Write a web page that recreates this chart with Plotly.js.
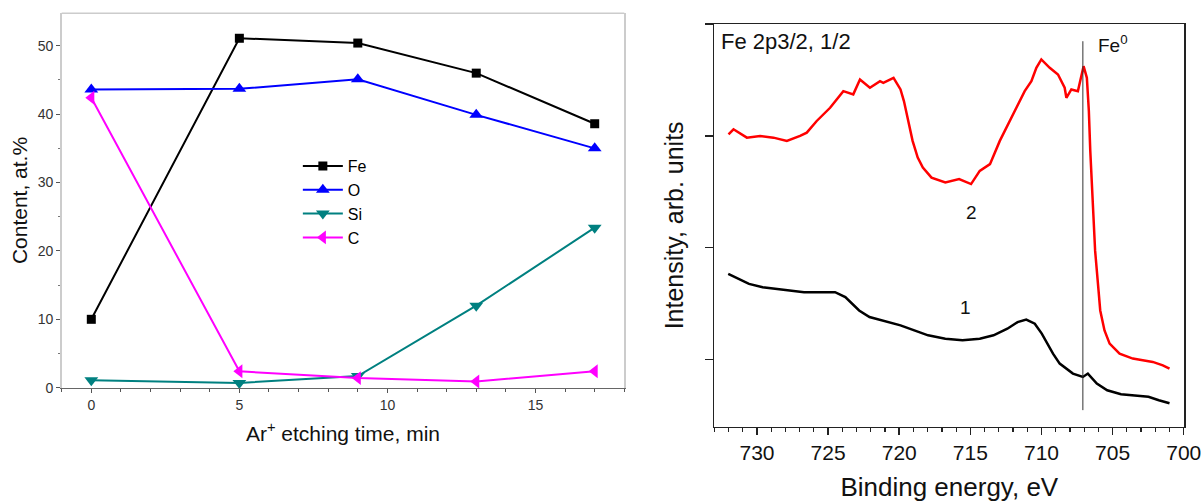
<!DOCTYPE html>
<html>
<head>
<meta charset="utf-8">
<script src="https://cdn.plot.ly/plotly-3.0.1.min.js"></script>
<style>html,body{margin:0;padding:0;background:#fff;}#chart{width:1201px;height:502px;}</style>
</head>
<body>
<div id="chart"></div>
<script>
// ---- Left panel: elemental content vs Ar+ etching time ----
const etchTime = [0, 5, 9, 13, 17];
const feContent = [10.0, 51.1, 50.4, 46.0, 38.6];
const oContent = [43.6, 43.7, 45.1, 39.9, 35.0];
const siContent = [1.1, 0.7, 1.7, 12.0, 23.4];
const cContent = [42.4, 2.4, 1.4, 0.9, 2.4];
const xTicksLeft = [0, 5, 10, 15];
const yTicksLeft = [0, 10, 20, 30, 40, 50];

// ---- Right panel: Fe 2p XPS spectra ----
const spec2Energy = [732.0, 731.65, 730.71, 729.78, 728.84, 727.90, 726.97, 726.50, 725.80, 724.86, 723.93, 723.23, 722.76, 722.06, 721.35, 721.12, 720.40, 719.91, 719.67, 719.43, 719.06, 718.70, 718.34, 717.73, 716.76, 715.79, 714.95, 714.34, 713.62, 712.93, 712.0, 711.18, 710.71, 710.36, 710.01, 709.42, 708.84, 708.37, 708.25, 707.90, 707.44, 707.04, 706.81, 706.67, 706.57, 706.23, 705.99, 705.87, 705.57, 705.21, 704.51, 703.58, 702.88, 702.18, 701.47, 701.0];
const spec2Intensity = [3.014, 3.059, 2.984, 2.999, 2.984, 2.954, 2.999, 3.029, 3.133, 3.251, 3.400, 3.371, 3.504, 3.430, 3.489, 3.474, 3.519, 3.415, 3.311, 3.162, 2.955, 2.806, 2.717, 2.627, 2.583, 2.613, 2.569, 2.687, 2.747, 2.955, 3.193, 3.400, 3.489, 3.608, 3.683, 3.608, 3.549, 3.430, 3.340, 3.415, 3.400, 3.623, 3.519, 3.222, 2.866, 1.974, 1.618, 1.439, 1.261, 1.143, 1.053, 1.009, 0.994, 0.979, 0.949, 0.920];
const spec1Energy = [732.02, 731.29, 730.56, 729.60, 728.63, 727.66, 726.69, 725.72, 724.51, 723.79, 723.30, 722.82, 722.09, 721.12, 719.91, 718.94, 717.97, 716.76, 715.55, 714.34, 713.37, 712.40, 711.68, 711.07, 710.47, 709.98, 709.50, 709.19, 708.72, 708.41, 707.79, 707.09, 706.74, 706.11, 705.38, 704.41, 703.45, 702.48, 701.75, 701.0];
const spec1Intensity = [1.766, 1.722, 1.677, 1.647, 1.633, 1.618, 1.603, 1.603, 1.603, 1.558, 1.499, 1.439, 1.380, 1.350, 1.306, 1.261, 1.217, 1.187, 1.172, 1.187, 1.217, 1.276, 1.335, 1.357, 1.321, 1.232, 1.127, 1.053, 0.964, 0.934, 0.875, 0.845, 0.875, 0.786, 0.726, 0.691, 0.676, 0.667, 0.637, 0.610];
const fe0Energy = 707.09;
const xTicksRight = [730, 725, 720, 715, 710, 705, 700];
const yTicksRight = [1, 2, 3, 4];

const FONT = 'Liberation Sans, Arial, Helvetica, sans-serif';

const traces = [
  {x: etchTime, y: feContent, name: 'Fe', mode: 'lines+markers', xaxis: 'x', yaxis: 'y', cliponaxis: false,
   line: {color: '#000000', width: 2}, marker: {symbol: 'square', size: 9, color: '#000000'}},
  {x: etchTime, y: oContent, name: 'O', mode: 'lines+markers', xaxis: 'x', yaxis: 'y', cliponaxis: false,
   line: {color: '#0000ff', width: 2}, marker: {symbol: 'triangle-up', size: 12, color: '#0000ff'}},
  {x: etchTime, y: siContent, name: 'Si', mode: 'lines+markers', xaxis: 'x', yaxis: 'y', cliponaxis: false,
   line: {color: '#008080', width: 2}, marker: {symbol: 'triangle-down', size: 12, color: '#008080'}},
  {x: etchTime, y: cContent, name: 'C', mode: 'lines+markers', xaxis: 'x', yaxis: 'y', cliponaxis: false,
   line: {color: '#ff00ff', width: 2}, marker: {symbol: 'triangle-left', size: 12, color: '#ff00ff'}},
  {x: spec2Energy, y: spec2Intensity, name: '2', mode: 'lines', xaxis: 'x2', yaxis: 'y2', showlegend: false,
   line: {color: '#ff0000', width: 2.5}},
  {x: spec1Energy, y: spec1Intensity, name: '1', mode: 'lines', xaxis: 'x2', yaxis: 'y2', showlegend: false,
   line: {color: '#000000', width: 2.5}}
];

const layout = {
  width: 1201, height: 502,
  margin: {l: 0, r: 0, t: 0, b: 0},
  paper_bgcolor: '#ffffff', plot_bgcolor: '#ffffff',
  font: {family: FONT, color: '#000000'},
  showlegend: true,
  legend: {x: 0.248, y: 0.703, xanchor: 'left', yanchor: 'top', bgcolor: 'rgba(0,0,0,0)',
           font: {family: FONT, size: 16, color: '#000'}, itemwidth: 40, tracegroupgap: 0},
  xaxis: {
    domain: [0.05137, 0.51982], anchor: 'y', range: [-1, 18],
    tickmode: 'linear', tick0: xTicksLeft[0], dtick: xTicksLeft[1] - xTicksLeft[0],
    ticks: 'outside', ticklen: 4, tickcolor: '#555', tickwidth: 1,
    minor: {dtick: 1, tick0: 0, ticks: 'outside', ticklen: 3, tickcolor: '#555'},
    showline: true, linecolor: '#666', linewidth: 1.5, showgrid: false, zeroline: false,
    tickfont: {family: FONT, size: 14, color: '#333'}, automargin: false,
    title: {text: 'Ar<sup>+</sup> etching time, min', font: {family: FONT, size: 21, color: '#111'}, standoff: 14}
  },
  yaxis: {
    domain: [0.2277, 0.9735], anchor: 'x', range: [0, 54.75],
    tickmode: 'linear', tick0: yTicksLeft[0], dtick: yTicksLeft[1] - yTicksLeft[0],
    ticks: 'outside', ticklen: 4, tickcolor: '#555', tickwidth: 1,
    minor: {dtick: 5, tick0: 0, ticks: 'outside', ticklen: 2, tickcolor: '#777'},
    showline: true, linecolor: '#cccccc', linewidth: 1.5, mirror: true, showgrid: false, zeroline: false,
    tickfont: {family: FONT, size: 14, color: '#333'}, automargin: false,
    title: {text: 'Content, at.%', font: {family: FONT, size: 21, color: '#111'}, standoff: 4}
  },
  xaxis2: {
    domain: [0.59475, 0.98610], anchor: 'y2', range: [733, 699.96],
    tickmode: 'linear', tick0: xTicksRight[xTicksRight.length - 1], dtick: xTicksRight[0] - xTicksRight[1],
    ticks: 'outside', ticklen: 7, tickcolor: '#222', tickwidth: 1.5, ticklabeloverflow: 'allow',
    minor: {dtick: 1, tick0: 700, ticks: 'outside', ticklen: 4, tickcolor: '#222', tickwidth: 1.2},
    showline: true, linecolor: '#222', linewidth: 1.5, mirror: true, showgrid: false, zeroline: false,
    tickfont: {family: FONT, size: 21, color: '#111'}, automargin: false,
    title: {text: 'Binding energy, eV', font: {family: FONT, size: 26, color: '#111'}, standoff: 16}
  },
  yaxis2: {
    domain: [0.15, 0.95219], anchor: 'x2', range: [0.4, 4],
    tickmode: 'linear', tick0: yTicksRight[0], dtick: yTicksRight[1] - yTicksRight[0], showticklabels: false,
    ticks: 'outside', ticklen: 8, tickcolor: '#222', tickwidth: 1.5,
    showline: true, linecolor: '#222', linewidth: 1.5, mirror: true, showgrid: false, zeroline: false,
    automargin: false,
    title: {text: 'Intensity, arb. units', font: {family: FONT, size: 25, color: '#111'}, standoff: 14}
  },
  shapes: [
    {type: 'line', xref: 'x domain', yref: 'y domain', x0: 0, x1: 1, y0: 1, y1: 1,
     line: {color: '#cccccc', width: 1.5}},
    {type: 'line', xref: 'x2', yref: 'y2', x0: fe0Energy, x1: fe0Energy, y0: 0.548, y1: 3.846,
     line: {color: '#333333', width: 1}}
  ],
  annotations: [
    {xref: 'x2', yref: 'y2', x: 732.65, y: 3.84, xanchor: 'left', yanchor: 'middle', showarrow: false,
     text: 'Fe 2p3/2, 1/2', font: {family: FONT, size: 22, color: '#111'}},
    {xref: 'x2', yref: 'y2', x: 706.16, y: 3.82, xanchor: 'left', yanchor: 'middle', showarrow: false,
     text: 'Fe<sup>0</sup>', font: {family: FONT, size: 19, color: '#111'}},
    {xref: 'x2', yref: 'y2', x: 714.95, y: 2.316, xanchor: 'center', yanchor: 'middle', showarrow: false,
     text: '2', font: {family: FONT, size: 19, color: '#111'}},
    {xref: 'x2', yref: 'y2', x: 715.32, y: 1.469, xanchor: 'center', yanchor: 'middle', showarrow: false,
     text: '1', font: {family: FONT, size: 19, color: '#111'}}
  ]
};

Plotly.newPlot('chart', traces, layout, {displayModeBar: false, staticPlot: true});
</script>
</body>
</html>
